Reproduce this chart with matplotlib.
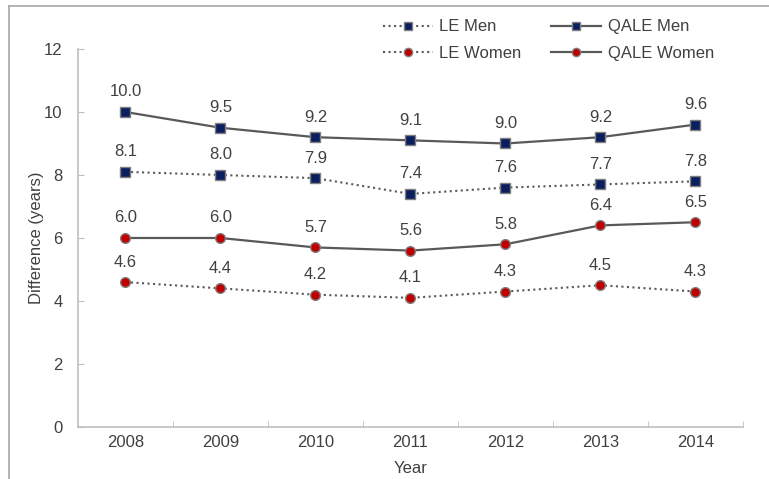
import matplotlib
matplotlib.use("Agg")
import matplotlib.pyplot as plt
from matplotlib.lines import Line2D

plt.rcParams["font.family"] = ["Liberation Sans", "DejaVu Sans"]

years = ["2008", "2009", "2010", "2011", "2012", "2013", "2014"]
le_men = [8.1, 8.0, 7.9, 7.4, 7.6, 7.7, 7.8]
qale_men = [10.0, 9.5, 9.2, 9.1, 9.0, 9.2, 9.6]
le_women = [4.6, 4.4, 4.2, 4.1, 4.3, 4.5, 4.3]
qale_women = [6.0, 6.0, 5.7, 5.6, 5.8, 6.4, 6.5]

TEXT = "#404040"
LINE = "#595959"
NAVY = "#0b1f5e"
RED = "#c00000"
FS = 12

fig = plt.figure(figsize=(7.69, 4.79), dpi=100)
ax = fig.add_axes([0.1014, 0.1086, 0.8646, 0.7891])

x = list(range(len(years)))
series = [
    ("LE Men", le_men, ":", "s", NAVY),
    ("LE Women", le_women, ":", "o", RED),
    ("QALE Men", qale_men, "-", "s", NAVY),
    ("QALE Women", qale_women, "-", "o", RED),
]
for name, vals, ls, mk, col in series:
    ax.plot(x, vals, linestyle=ls, color=LINE, linewidth=1.6 if ls == "-" else 1.5,
            marker=mk, markersize=7, markerfacecolor=col, markeredgecolor="#7f7f7f",
            markeredgewidth=1, label=name)
    for xi, v in zip(x, vals):
        ax.annotate(f"{v:.1f}", (xi, v), xytext=(0, 9), textcoords="offset points",
                    ha="center", va="bottom", fontsize=FS, color=TEXT)

ax.set_xlim(-0.5, len(years) - 0.5)
ax.set_ylim(0, 12)
ax.set_yticks([0, 2, 4, 6, 8, 10, 12])
ax.set_xticks(x)
ax.set_xticklabels(years)
ax.set_xticks([i + 0.5 for i in x], minor=True)
ax.tick_params(axis="x", which="major", length=0, pad=6, labelsize=FS, labelcolor=TEXT)
ax.tick_params(axis="x", which="minor", direction="in", length=4, color="#bfbfbf")
ax.tick_params(axis="y", direction="in", length=4, color="#bfbfbf", pad=11,
               labelsize=FS, labelcolor=TEXT)
for s in ["top", "right"]:
    ax.spines[s].set_visible(False)
for s in ["left", "bottom"]:
    ax.spines[s].set_color("#bfbfbf")
    ax.spines[s].set_linewidth(1.2)

ax.set_xlabel("Year", fontsize=FS, color=TEXT, labelpad=8)
ax.set_ylabel("Difference (years)", fontsize=FS, color=TEXT, labelpad=0)

leg = ax.legend(ncol=2, loc="center", bbox_to_anchor=(0.713, 0.916),
                bbox_transform=fig.transFigure, frameon=False, fontsize=FS,
                handlelength=3.0, columnspacing=1.75, labelspacing=0.7,
                handletextpad=0.4, markerscale=0.85)
for t in leg.get_texts():
    t.set_color(TEXT)

# outer frame lines (left and top)
fig.add_artist(Line2D([0.0117, 0.0117], [0, 0.9875], color="#a6a6a6", linewidth=1.2,
                      transform=fig.transFigure))
fig.add_artist(Line2D([0.0117, 1.0], [0.9875, 0.9875], color="#a6a6a6", linewidth=1.2,
                      transform=fig.transFigure))

fig.savefig("out.png", dpi=100)
